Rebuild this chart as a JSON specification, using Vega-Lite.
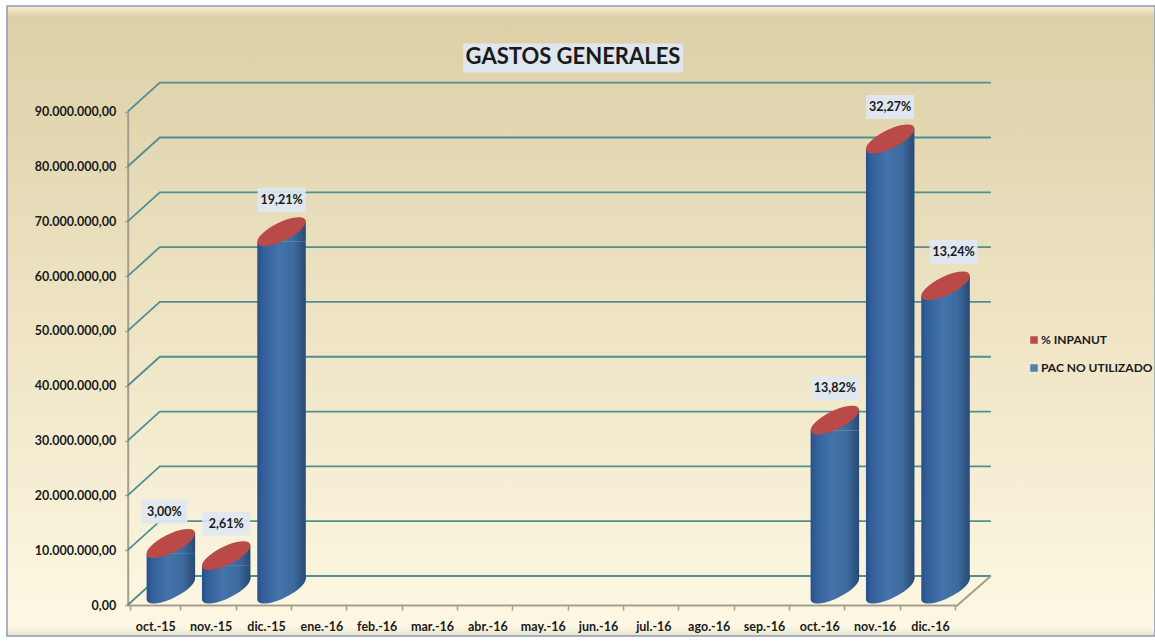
{
"$schema":"https://vega.github.io/schema/vega-lite/v6.json",
"autosize":"none",
"padding":{"left":7,"top":6,"right":0,"bottom":8},
"width":1148,"height":630,
"background":"#ffffff",
"view":{"stroke":"#8c9bb2","strokeWidth":1.5,"fill":{"gradient":"linear","x1":0,"y1":0,"x2":0,"y2":1,"stops":[{"offset":0,"color":"#f7f0d2"},{"offset":0.018,"color":"#ddd0a8"},{"offset":0.5,"color":"#eee4c4"},{"offset":0.985,"color":"#fdf8e3"},{"offset":1,"color":"#e8e3d0"}]}},
"title":{"text":"GASTOS GENERALES","frame":"group","anchor":"middle","offset":-63,"dx":-8,"fontSize":22,"font":"Lato","fontWeight":"bold","color":"#1a1a1a"},
"config":{"font":"Lato"},
"resolve":{"scale":{"x":"independent"}},
"layer":[
{"data":{"values":[
{"id":"g0","pos":0,"val":0},{"id":"g0","pos":0.58,"val":5290000},{"id":"g0","pos":15.6,"val":5290000},
{"id":"g1","pos":0,"val":10000000},{"id":"g1","pos":0.58,"val":15290000},{"id":"g1","pos":15.6,"val":15290000},
{"id":"g2","pos":0,"val":20000000},{"id":"g2","pos":0.58,"val":25290000},{"id":"g2","pos":15.6,"val":25290000},
{"id":"g3","pos":0,"val":30000000},{"id":"g3","pos":0.58,"val":35290000},{"id":"g3","pos":15.6,"val":35290000},
{"id":"g4","pos":0,"val":40000000},{"id":"g4","pos":0.58,"val":45290000},{"id":"g4","pos":15.6,"val":45290000},
{"id":"g5","pos":0,"val":50000000},{"id":"g5","pos":0.58,"val":55290000},{"id":"g5","pos":15.6,"val":55290000},
{"id":"g6","pos":0,"val":60000000},{"id":"g6","pos":0.58,"val":65290000},{"id":"g6","pos":15.6,"val":65290000},
{"id":"g7","pos":0,"val":70000000},{"id":"g7","pos":0.58,"val":75290000},{"id":"g7","pos":15.6,"val":75290000},
{"id":"g8","pos":0,"val":80000000},{"id":"g8","pos":0.58,"val":85290000},{"id":"g8","pos":15.6,"val":85290000},
{"id":"g9","pos":0,"val":90000000},{"id":"g9","pos":0.58,"val":95290000},{"id":"g9","pos":15.6,"val":95290000}
]},
"layer":[
{"mark":{"type":"line","stroke":"#4f8f93","strokeWidth":1.8},
"encoding":{
"x":{"field":"pos","type":"quantitative","axis":null,"scale":{"domain":[0,15],"range":[120.7,950.7]}},
"y":{"field":"val","type":"quantitative","scale":{"domain":[0,90000000],"range":[599,105.7]},
"axis":{"title":null,"values":[0,10000000,20000000,30000000,40000000,50000000,60000000,70000000,80000000,90000000],"offset":-120.7,"grid":false,"domainColor":"#a69e8b","domainWidth":2,"tickColor":"#a69e8b","tickSize":3,"tickWidth":1.5,"labelFont":"Lato","labelFontWeight":"bold","labelFontSize":12.5,"labelColor":"#1a1a1a","labelPadding":9,"labelExpr":"replace(format(datum.value,',d'),/,/g,'.')+',00'"}},
"detail":{"field":"id"}}},
{"data":{"values":[{"pos":15,"val":0},{"pos":15.6,"val":5290000}]},
"mark":{"type":"line","stroke":"#a69e8b","strokeWidth":2},
"encoding":{"x":{"field":"pos","type":"quantitative","axis":null,"scale":{"domain":[0,15],"range":[120.7,950.7]}},"y":{"field":"val","type":"quantitative"}}},
{"transform":[{"filter":"datum.id==='g0' && datum.pos===0"}],
"mark":{"type":"point","filled":true,"opacity":0.92,"fill":"#dfe7f2","stroke":null,"shape":"M-1,-0.132H1V0.132H-1Z","size":48400},
"encoding":{"x":{"datum":8.05,"type":"quantitative","axis":null,"scale":{"domain":[0,15],"range":[120.7,950.7]}},"y":{"datum":99800000,"type":"quantitative"}}}
]},
{"data":{"values":[
{"mes":"oct.-15","pac":8300000,"pct":"3,00%"},
{"mes":"nov.-15","pac":6100000,"pct":"2,61%"},
{"mes":"dic.-15","pac":65200000,"pct":"19,21%"},
{"mes":"ene.-16","pac":null,"pct":null},
{"mes":"feb.-16","pac":null,"pct":null},
{"mes":"mar.-16","pac":null,"pct":null},
{"mes":"abr.-16","pac":null,"pct":null},
{"mes":"may.-16","pac":null,"pct":null},
{"mes":"jun.-16","pac":null,"pct":null},
{"mes":"jul.-16","pac":null,"pct":null},
{"mes":"ago.-16","pac":null,"pct":null},
{"mes":"sep.-16","pac":null,"pct":null},
{"mes":"oct.-16","pac":30800000,"pct":"13,82%"},
{"mes":"nov.-16","pac":82100000,"pct":"32,27%"},
{"mes":"dic.-16","pac":55300000,"pct":"13,24%"}
]},
"encoding":{
"x":{"field":"mes","type":"ordinal","sort":null,"title":null,
"scale":{"type":"band","domain":["oct.-15","nov.-15","dic.-15","ene.-16","feb.-16","mar.-16","abr.-16","may.-16","jun.-16","jul.-16","ago.-16","sep.-16","oct.-16","nov.-16","dic.-16"],"range":[120.7,950.7]},
"axis":{"orient":"bottom","offset":-31,"labelAngle":0,"domainColor":"#a69e8b","domainWidth":2,"tickColor":"#a69e8b","tickBand":"extent","tickSize":5,"tickWidth":1.5,"labelFont":"Lato","labelFontWeight":"bold","labelFontSize":12.5,"labelColor":"#1a1a1a","labelPadding":10,"title":null}},
"y":{"field":"pac","type":"quantitative"}},
"layer":[
{"mark":{"type":"bar","width":48.5,"xOffset":15.5,"yOffset":-6,"y2Offset":-26,"fill":{"gradient":"linear","x1":0,"y1":0,"x2":1,"y2":0,"stops":[{"offset":0,"color":"#28508a"},{"offset":0.12,"color":"#33609a"},{"offset":0.45,"color":"#4474ab"},{"offset":0.75,"color":"#3d6a9e"},{"offset":1,"color":"#274a74"}]}},
"encoding":{"y2":{"datum":0}}},
{"transform":[{"filter":"datum.pac!=null"}],
"mark":{"type":"point","filled":true,"opacity":1,"stroke":null,"xOffset":15.5,"yOffset":-16,"size":2352,"shape":"M-1,-0.42L1,-0.42L-1,0.42ZM1,-0.42C1,-0.188 0.552,0.188 0,0.42C-0.552,0.652 -1,0.652 -1,0.42C-1,0.188 -0.552,-0.188 0,-0.42C0.552,-0.652 1,-0.652 1,-0.42Z","fill":{"gradient":"linear","x1":0,"y1":0,"x2":1,"y2":0,"stops":[{"offset":0,"color":"#28508a"},{"offset":0.12,"color":"#33609a"},{"offset":0.45,"color":"#4474ab"},{"offset":0.75,"color":"#3d6a9e"},{"offset":1,"color":"#274a74"}]}},
"encoding":{"y":{"datum":0}}},
{"transform":[{"filter":"datum.pac!=null"}],
"mark":{"type":"point","filled":true,"opacity":1,"stroke":null,"xOffset":15.5,"yOffset":-16,"size":2352,"shape":"M-1,0.42L1,-0.42L1,0.42Z","fill":{"gradient":"linear","x1":0,"y1":0,"x2":1,"y2":0,"stops":[{"offset":0,"color":"#28508a"},{"offset":0.12,"color":"#33609a"},{"offset":0.45,"color":"#4474ab"},{"offset":0.75,"color":"#3d6a9e"},{"offset":1,"color":"#274a74"}]}}},
{"transform":[{"filter":"datum.pac!=null"}],
"mark":{"type":"point","filled":true,"opacity":1,"stroke":null,"xOffset":15.5,"yOffset":-16,"size":2352,"fill":"#b94a48","shape":"M1,-0.42C1,-0.188 0.552,0.188 0,0.42C-0.552,0.652 -1,0.652 -1,0.42C-1,0.188 -0.552,-0.188 0,-0.42C0.552,-0.652 1,-0.652 1,-0.42Z"}},
{"transform":[{"filter":"datum.pac!=null && datum.mes!=='oct.-15' && datum.mes!=='dic.-16'"}],
"mark":{"type":"point","filled":true,"opacity":0.92,"stroke":null,"fill":"#dfe7f2","xOffset":15.5,"yOffset":-48,"size":2304,"shape":"M-1,-0.5H1V0.5H-1Z"}},
{"transform":[{"filter":"datum.pac!=null && datum.mes!=='oct.-15' && datum.mes!=='dic.-16'"}],
"mark":{"type":"text","xOffset":15.5,"yOffset":-48,"font":"Lato","fontWeight":"bold","fontSize":12.5,"color":"#1a1a1a"},
"encoding":{"text":{"field":"pct"}}},
{"transform":[{"filter":"datum.mes==='oct.-15'"}],
"mark":{"type":"point","filled":true,"opacity":0.92,"stroke":null,"fill":"#dfe7f2","xOffset":9,"yOffset":-48,"size":2116,"shape":"M-1,-0.52H1V0.52H-1Z"}},
{"transform":[{"filter":"datum.mes==='oct.-15'"}],
"mark":{"type":"text","xOffset":9,"yOffset":-48,"font":"Lato","fontWeight":"bold","fontSize":12.5,"color":"#1a1a1a"},
"encoding":{"text":{"field":"pct"}}},
{"transform":[{"filter":"datum.mes==='dic.-16'"}],
"mark":{"type":"point","filled":true,"opacity":0.92,"stroke":null,"fill":"#dfe7f2","xOffset":23.5,"yOffset":-50,"size":2304,"shape":"M-1,-0.5H1V0.5H-1Z"}},
{"transform":[{"filter":"datum.mes==='dic.-16'"}],
"mark":{"type":"text","xOffset":23.5,"yOffset":-50,"font":"Lato","fontWeight":"bold","fontSize":12.5,"color":"#1a1a1a"},
"encoding":{"text":{"field":"pct"}}}
]},
{"data":{"values":[{"serie":"% INPANUT","mes":"oct.-15","pac":0},{"serie":"PAC NO UTILIZADO","mes":"oct.-15","pac":0}]},
"mark":{"type":"point","filled":true,"shape":"square","opacity":0},
"encoding":{
"x":{"field":"mes","type":"ordinal","axis":null},
"y":{"field":"pac","type":"quantitative"},
"color":{"field":"serie","type":"nominal","scale":{"domain":["% INPANUT","PAC NO UTILIZADO"],"range":["#b94a48","#4f7fb5"]},
"legend":{"orient":"none","legendX":1021,"legendY":328,"title":null,"symbolType":"square","symbolSize":56,"symbolOpacity":1,"rowPadding":16,"labelFont":"Lato","labelFontWeight":"bold","labelFontSize":12,"labelColor":"#1a1a1a","labelOffset":1,"padding":0}}}}
]
}
